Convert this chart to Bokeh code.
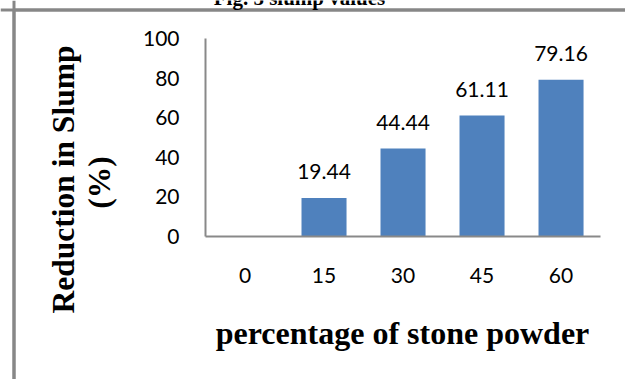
import math
from bokeh.plotting import figure
from bokeh.models import (ColumnDataSource, LabelSet, Label, FixedTicker, Range1d, Span)
from bokeh.core.properties import value
from bokeh.embed import file_html
from bokeh.resources import INLINE

categories = ["0", "15", "30", "45", "60"]
values = [0, 19.44, 44.44, 61.11, 79.16]
value_labels = ["", "19.44", "44.44", "61.11", "79.16"]
y_ticks = [0, 20, 40, 60, 80, 100]

positions = list(range(len(categories)))
source = ColumnDataSource(data=dict(pos=positions, val=values, lab=value_labels))

W, H = 625, 379
X0, X1 = -3.095, 4.816
Y0, Y1 = -72.22, 119.19
p = figure(width=W, height=H, output_backend="svg", toolbar_location=None,
           x_range=Range1d(X0, X1), y_range=Range1d(Y0, Y1),
           min_border_left=0, min_border_right=0, min_border_top=0, min_border_bottom=0)
p.outline_line_color = None
p.background_fill_color = "white"
p.border_fill_color = "white"
p.xgrid.grid_line_color = None
p.ygrid.grid_line_color = None

# outer frame of the figure (left and top edges visible; right and bottom run past the picture)
px_x = (X1 - X0) / W
px_y = (Y1 - Y0) / H
fx = X0 + 13.5 * px_x
fy = Y1 - 9.5 * px_y
p.segment(x0=[fx, fx], y0=[fy, fy], x1=[fx, X1], y1=[Y0, fy],
          line_color="#878787", line_width=3, line_alpha=1.0)
p.add_layout(Span(location=fx, dimension="height", line_color="#878787", line_width=3))
p.add_layout(Span(location=fy, dimension="width", line_color="#878787", line_width=3))

p.vbar(x="pos", top="val", width=0.57, source=source, fill_color="#4F81BD", line_color=None)

labels = LabelSet(x="pos", y="val", text="lab", source=source, text_align="center",
                  text_baseline="alphabetic", y_offset=19, text_font=value("Lato"),
                  text_font_size="21px", text_color="black")
p.add_layout(labels)

for ax in (p.xaxis, p.yaxis):
    ax.axis_line_color = "#898989"
    ax.axis_line_width = 2
    ax.major_tick_line_color = None
    ax.minor_tick_line_color = None
    ax.major_tick_out = 0
    ax.major_tick_in = 0
    ax.minor_tick_out = 0
    ax.minor_tick_in = 0
    ax.major_label_text_font = "Lato"
    ax.major_label_text_font_size = "21px"
    ax.major_label_text_color = "black"

p.yaxis.fixed_location = -0.5
p.yaxis.bounds = (0, 100)
p.yaxis.ticker = FixedTicker(ticks=y_ticks)
p.yaxis.major_label_standoff = 26

p.xaxis.fixed_location = 0
p.xaxis.bounds = (-0.5, len(categories) - 0.5)
p.xaxis.ticker = FixedTicker(ticks=positions)
p.xaxis.major_label_overrides = {i: c for i, c in enumerate(categories)}
p.xaxis.major_label_standoff = 31


def sy(canvas_y):
    return H - canvas_y


xtitle = Label(x=402, y=sy(332), x_units="screen", y_units="screen",
               text="percentage of stone powder", text_align="center", text_baseline="alphabetic",
               text_font="Liberation Serif", text_font_style="bold", text_font_size="32px",
               text_color="black")
ylab1 = Label(x=63, y=sy(179), x_units="screen", y_units="screen", angle=math.pi / 2,
              text="Reduction in Slump", text_align="center", text_baseline="middle",
              text_font="Liberation Serif", text_font_style="bold", text_font_size="31.5px",
              text_color="black")
ylab2 = Label(x=99, y=sy(182), x_units="screen", y_units="screen", angle=math.pi / 2,
              text="(%)", text_align="center", text_baseline="middle",
              text_font="Liberation Serif", text_font_style="bold", text_font_size="31.5px",
              text_color="black")
title = Label(x=299, y=sy(-3), x_units="screen", y_units="screen", text="Fig. 5 slump values",
              text_align="center", text_baseline="alphabetic", text_font="Liberation Serif",
              text_font_style="bold", text_font_size="21px", text_color="black")
for lab in (xtitle, ylab1, ylab2, title):
    p.add_layout(lab)

open("out.html", "w").write(file_html(p, INLINE))
